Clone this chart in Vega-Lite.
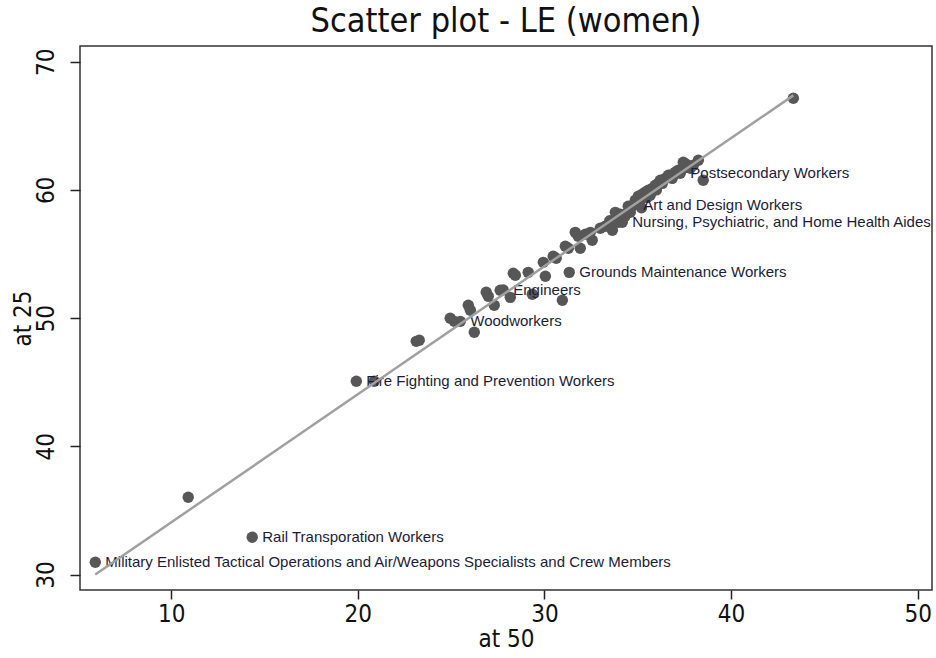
{
  "$schema": "https://vega.github.io/schema/vega-lite/v6.json",
  "autosize": "none",
  "width": 852,
  "height": 544,
  "padding": {"left": 80, "top": 46, "right": 4, "bottom": 68},
  "background": "white",
  "config": {
    "view": {"stroke": "#333333", "strokeWidth": 1.5},
    "font": "DejaVu Sans Condensed, Liberation Sans, sans-serif"
  },
  "title": {
    "text": "Scatter plot - LE (women)",
    "font": "DejaVu Sans Condensed, Liberation Sans, sans-serif",
    "fontSize": 34,
    "fontWeight": "normal",
    "color": "#111111",
    "anchor": "middle",
    "offset": 7
  },
  "data": {
    "values": [
      {"x": 5.93, "y": 30.96, "label": "Military Enlisted Tactical Operations and Air/Weapons Specialists and Crew Members"},
      {"x": 10.91, "y": 36.03, "label": ""},
      {"x": 14.34, "y": 32.91, "label": "Rail Transporation Workers"},
      {"x": 19.92, "y": 45.08, "label": "Fire Fighting and Prevention Workers"},
      {"x": 20.88, "y": 45.08, "label": ""},
      {"x": 23.13, "y": 48.19, "label": ""},
      {"x": 23.29, "y": 48.27, "label": ""},
      {"x": 24.95, "y": 49.99, "label": ""},
      {"x": 25.17, "y": 49.75, "label": ""},
      {"x": 25.49, "y": 49.75, "label": "Woodworkers"},
      {"x": 25.92, "y": 51.0, "label": ""},
      {"x": 26.03, "y": 50.61, "label": ""},
      {"x": 26.24, "y": 48.9, "label": ""},
      {"x": 26.88, "y": 52.02, "label": ""},
      {"x": 26.99, "y": 51.7, "label": ""},
      {"x": 27.31, "y": 51.0, "label": ""},
      {"x": 27.63, "y": 52.17, "label": ""},
      {"x": 27.79, "y": 52.2, "label": "Engineers"},
      {"x": 28.17, "y": 51.62, "label": ""},
      {"x": 28.33, "y": 53.5, "label": ""},
      {"x": 28.44, "y": 53.34, "label": ""},
      {"x": 29.13, "y": 53.57, "label": ""},
      {"x": 29.35, "y": 51.86, "label": ""},
      {"x": 29.94, "y": 54.35, "label": ""},
      {"x": 30.05, "y": 53.26, "label": ""},
      {"x": 30.47, "y": 54.82, "label": ""},
      {"x": 30.63, "y": 54.67, "label": ""},
      {"x": 30.96, "y": 51.39, "label": ""},
      {"x": 31.12, "y": 55.6, "label": ""},
      {"x": 31.28, "y": 55.45, "label": ""},
      {"x": 31.33, "y": 53.57, "label": "Grounds Maintenance Workers"},
      {"x": 31.65, "y": 56.69, "label": ""},
      {"x": 31.81, "y": 56.38, "label": ""},
      {"x": 31.92, "y": 55.45, "label": ""},
      {"x": 32.19, "y": 56.54, "label": ""},
      {"x": 32.46, "y": 56.69, "label": ""},
      {"x": 32.56, "y": 56.07, "label": ""},
      {"x": 32.99, "y": 57.01, "label": ""},
      {"x": 33.26, "y": 57.16, "label": ""},
      {"x": 33.5, "y": 57.6, "label": ""},
      {"x": 33.64, "y": 56.85, "label": ""},
      {"x": 33.64, "y": 57.32, "label": ""},
      {"x": 33.8, "y": 58.25, "label": ""},
      {"x": 33.96, "y": 57.47, "label": ""},
      {"x": 34.06, "y": 58.1, "label": ""},
      {"x": 34.17, "y": 57.47, "label": "Nursing, Psychiatric, and Home Health Aides"},
      {"x": 34.3, "y": 57.9, "label": ""},
      {"x": 34.33, "y": 58.1, "label": ""},
      {"x": 34.49, "y": 58.72, "label": ""},
      {"x": 34.6, "y": 58.25, "label": ""},
      {"x": 34.76, "y": 58.8, "label": "Art and Design Workers"},
      {"x": 34.87, "y": 59.19, "label": ""},
      {"x": 35.0, "y": 58.9, "label": ""},
      {"x": 35.03, "y": 59.5, "label": ""},
      {"x": 35.14, "y": 59.19, "label": ""},
      {"x": 35.2, "y": 58.6, "label": ""},
      {"x": 35.24, "y": 59.66, "label": ""},
      {"x": 35.4, "y": 59.81, "label": ""},
      {"x": 35.5, "y": 59.4, "label": ""},
      {"x": 35.57, "y": 59.97, "label": ""},
      {"x": 35.67, "y": 59.58, "label": ""},
      {"x": 35.78, "y": 60.12, "label": ""},
      {"x": 35.94, "y": 60.36, "label": ""},
      {"x": 36.0, "y": 60.0, "label": ""},
      {"x": 36.1, "y": 60.51, "label": ""},
      {"x": 36.21, "y": 60.75, "label": ""},
      {"x": 36.32, "y": 60.51, "label": ""},
      {"x": 36.48, "y": 60.9, "label": ""},
      {"x": 36.64, "y": 61.14, "label": ""},
      {"x": 36.75, "y": 61.14, "label": ""},
      {"x": 36.85, "y": 60.9, "label": ""},
      {"x": 37.01, "y": 61.37, "label": ""},
      {"x": 37.17, "y": 61.53, "label": ""},
      {"x": 37.28, "y": 61.29, "label": "Postsecondary Workers"},
      {"x": 37.44, "y": 61.68, "label": ""},
      {"x": 37.44, "y": 62.15, "label": ""},
      {"x": 37.6, "y": 62.0, "label": ""},
      {"x": 37.82, "y": 61.68, "label": ""},
      {"x": 37.98, "y": 61.92, "label": ""},
      {"x": 38.25, "y": 62.31, "label": ""},
      {"x": 38.51, "y": 60.75, "label": ""},
      {"x": 43.34, "y": 67.14, "label": ""}
    ]
  },
  "encoding": {
    "x": {
      "field": "x",
      "type": "quantitative",
      "scale": {"domain": [5.11, 50.77], "nice": false, "zero": false},
      "axis": {
        "title": "at 50",
        "values": [10, 20, 30, 40, 50],
        "grid": false,
        "domain": false,
        "tickSize": 9,
        "tickColor": "#222222",
        "tickWidth": 1.5,
        "labelFont": "DejaVu Sans Condensed, Liberation Sans, sans-serif",
        "labelFontSize": 24,
        "labelColor": "#111111",
        "labelPadding": 3,
        "titleFont": "DejaVu Sans Condensed, Liberation Sans, sans-serif",
        "titleFontSize": 24,
        "titleFontWeight": "normal",
        "titleColor": "#111111",
        "titlePadding": 1
      }
    },
    "y": {
      "field": "y",
      "type": "quantitative",
      "scale": {"domain": [28.8, 71.22], "nice": false, "zero": false},
      "axis": {
        "title": "at 25",
        "values": [30, 40, 50, 60, 70],
        "grid": false,
        "domain": false,
        "tickSize": 10,
        "tickColor": "#222222",
        "tickWidth": 1.5,
        "labelAngle": -90,
        "labelAlign": "center",
        "labelBaseline": "bottom",
        "labelFont": "DejaVu Sans Condensed, Liberation Sans, sans-serif",
        "labelFontSize": 24,
        "labelColor": "#111111",
        "labelPadding": 12,
        "titleFont": "DejaVu Sans Condensed, Liberation Sans, sans-serif",
        "titleFontSize": 24,
        "titleFontWeight": "normal",
        "titleColor": "#111111",
        "titlePadding": -1
      }
    }
  },
  "layer": [
    {
      "mark": {"type": "circle", "size": 130, "color": "#575757", "opacity": 1}
    },
    {
      "mark": {"type": "text", "align": "left", "baseline": "middle", "dx": 10, "font": "Liberation Sans, sans-serif", "fontSize": 15, "color": "#1c1c3a"},
      "encoding": {"text": {"field": "label"}}
    },
    {
      "transform": [{"regression": "y", "on": "x"}],
      "mark": {"type": "line", "color": "#a0a0a0", "strokeWidth": 2.5},
      "encoding": {}
    }
  ]
}
